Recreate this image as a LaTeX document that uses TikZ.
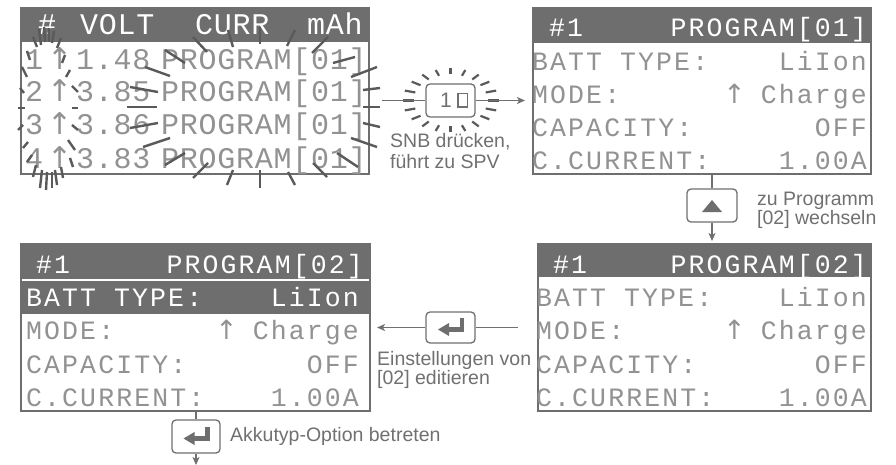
\documentclass[tikz,border=0pt]{standalone}
\usepackage{fontspec}
\setmainfont{Liberation Sans}
\newfontfamily\lcdA{Liberation Mono}[LetterSpace=2.5]
\newfontfamily\lcdB{Liberation Mono}[LetterSpace=8]
\newfontfamily\arrfont{DejaVu Sans}
\newcommand\lcdup{\makebox[0.62em][c]{\arrfont\symbol{"2191}}}
\usetikzlibrary{arrows.meta}
\definecolor{frm}{HTML}{6E6E6E}
\definecolor{lcd}{HTML}{929292}
\definecolor{lbl}{HTML}{707070}
\definecolor{raycol}{HTML}{5A5A5A}
\begin{document}
\begin{tikzpicture}[x=1pt,y=-1pt,
  lcdscreen/.style={draw=frm, line width=2.5pt, fill=white, inner sep=0pt, outer sep=0pt, rectangle},
  btn/.style={draw=lbl, line width=1.3pt, rounded corners=4pt, fill=white, inner sep=0pt, minimum width=49pt, minimum height=33pt},
  lcdS/.style={inner sep=0pt, font=\lcdB\fontsize{26.5}{26.5}\selectfont, text=lcd},
  lcdT/.style={inner sep=0pt, font=\lcdA\fontsize{30}{30}\selectfont, text=lcd, anchor=base west},
  lbltxt/.style={inner sep=0pt, font=\fontsize{19.5}{22}\selectfont, text=lbl, anchor=base west},
  conn/.style={draw=lbl, line width=1.2pt},
  arr/.style={conn, -{Stealth[length=8pt,width=7pt,inset=2pt]}},
  rayS/.style={draw=raycol, line width=2.4pt},
  entericon/.pic={
    \fill[frm] (9,-9.5) rectangle (13.5,4.5);
    \fill[frm] (-2,-0.5) rectangle (13.5,4.5);
    \fill[frm] (-12.5,2) -- (-1.5,-4.5) -- (-1.5,8.5) -- cycle;
  }]
\useasboundingbox (0,0) rectangle (896,465);

% ---------------- screen 1 ----------------
\node[lcdscreen, minimum width=348pt, minimum height=166pt] (s1) at (195,91) {};
\fill[frm] (20,7) rectangle (370,42);
\node[lcdT, text=white] (s1a) at (38,35) {\#};
\node[lcdT, text=white] (s1b) at (80,35) {VOLT};
\node[lcdT, text=white] (s1c) at (195,35) {CURR};
\node[lcdT, text=white] (s1d) at (307,35) {mAh};
\foreach \n/\v/\b in {1/1.48/70, 2/3.85/102, 3/3.86/135, 4/3.83/169} {
  \node[lcdT] (r\n a) at (25,\b) {\n};
  \node[lcdT] (r\n b) at (51,\b) {\lcdup};
  \node[lcdT] (r\n c) at (76,\b) {\v};
  \node[lcdT] (r\n d) at (161,\b) {PROGRAM[01]};
}
\draw[raycol, line width=2pt] (127,107) -- (157,107);
% right burst
\foreach \xa/\ya/\xb/\yb in {193/37/207/52, 228/30/233/47, 260/27/260/44, 295/30/287/46, 328/37/312/53,
  355/57/333/63, 377/67/351/77, 380/88/363/90, 380/107/363/107, 380/127/363/123, 377/147/351/138,
  358/167/337/153, 327/177/313/163, 295/185/288/172, 260/188/260/170, 227/185/233/170, 193/178/208/163,
  165/165/185/153, 143/147/170/138, 130/128/158/123, 130/87/158/92, 145/67/170/76, 165/50/185/63}
  \draw[rayS] (\xa,\ya) -- (\xb,\yb);
% left burst
\foreach \xa/\ya/\xb/\yb in {33/37/37/47, 39/29/41/45, 44/27/45/42, 49/28/49/42, 54/31/52/43, 61/38/57/48,
  27/51/30/60, 65/55/62/63, 22/67/27/77, 70/70/66/77, 20/88/24/93, 72/86/78/92,
  18/108/25/108, 72/108/78/108, 18/130/23/125, 72/125/78/130, 23/148/28/142, 68/140/75/150,
  27/162/32/155, 70/158/73/167,
  33/177/36/165, 40/188/42/170, 46/190/47/172, 52/188/52/172, 57/185/55/170, 63/178/61/167}
  \draw[rayS] (\xa,\ya) -- (\xb,\yb);

% ---------------- screen 2 ----------------
\node[lcdscreen, minimum width=338pt, minimum height=166pt] (s2) at (702,91) {};
\fill[frm] (532,7) rectangle (872,43);
\node[lcdS, text=white, anchor=base west] (s2a) at (549,37) {\#1};
\node[lcdS, text=white, anchor=base east] (s2b) at (867,37) {PROGRAM[01]};
\node[lcdS, anchor=base west] (s2c) at (532,70.5) {BATT TYPE:};
\node[lcdS, anchor=base east] (s2d) at (867,70.5) {LiIon};
\node[lcdS, anchor=base west] (s2e) at (532,103.5) {MODE:};
\node[lcdS, anchor=base east] (s2f) at (867,103.5) {\lcdup\ Charge};
\node[lcdS, anchor=base west] (s2g) at (532,137) {CAPACITY:};
\node[lcdS, anchor=base east] (s2h) at (867,137) {OFF};
\node[lcdS, anchor=base west] (s2i) at (532,170) {C.CURRENT:};
\node[lcdS, anchor=base east] (s2j) at (867,170) {1.00A};

% ---------------- screen 3 ----------------
\node[lcdscreen, minimum width=333pt, minimum height=167pt] (s3) at (704.5,327.5) {};
\fill[frm] (537,243) rectangle (872,277);
\node[lcdS, text=white, anchor=base west] (s3a) at (553,273) {\#1};
\node[lcdS, text=white, anchor=base east] (s3b) at (867,273) {PROGRAM[02]};
\node[lcdS, anchor=base west] (s3c) at (536,306.5) {BATT TYPE:};
\node[lcdS, anchor=base east] (s3d) at (867,306.5) {LiIon};
\node[lcdS, anchor=base west] (s3e) at (536,339.5) {MODE:};
\node[lcdS, anchor=base east] (s3f) at (867,339.5) {\lcdup\ Charge};
\node[lcdS, anchor=base west] (s3g) at (536,373) {CAPACITY:};
\node[lcdS, anchor=base east] (s3h) at (867,373) {OFF};
\node[lcdS, anchor=base west] (s3i) at (536,406) {C.CURRENT:};
\node[lcdS, anchor=base east] (s3j) at (867,406) {1.00A};

% ---------------- screen 4 ----------------
\node[lcdscreen, minimum width=349pt, minimum height=167pt] (s4) at (195.5,327.5) {};
\fill[frm] (20,243) rectangle (371,278.5);
\fill[frm] (20,280.5) rectangle (371,314);
\node[lcdS, text=white, anchor=base west] (s4a) at (36,273) {\#1};
\node[lcdS, text=white, anchor=base east] (s4b) at (363,273) {PROGRAM[02]};
\node[lcdS, text=white, anchor=base west] (s4c) at (26,306.5) {BATT TYPE:};
\node[lcdS, text=white, anchor=base east] (s4d) at (359,306.5) {LiIon};
\node[lcdS, anchor=base west] (s4e) at (26,339.5) {MODE:};
\node[lcdS, anchor=base east] (s4f) at (359,339.5) {\lcdup\ Charge};
\node[lcdS, anchor=base west] (s4g) at (26,373) {CAPACITY:};
\node[lcdS, anchor=base east] (s4h) at (359,373) {OFF};
\node[lcdS, anchor=base west] (s4i) at (26,406) {C.CURRENT:};
\node[lcdS, anchor=base east] (s4j) at (359,406) {1.00A};

% ---------------- buttons ----------------
\node[btn] (b1) at (450.5,100.5) {};
\node[inner sep=0pt, font=\fontsize{21}{21}\selectfont, text=lbl] (b1t) at (446,100.5) {1};
\draw[lbl, line width=1.3pt] (458,93.5) rectangle (467.5,107);
\foreach \a in {0,18,...,342}
  \draw[rayS, line width=2.2pt] ({450.5+37*cos(\a)},{100.5+26*sin(\a)}) -- ({450.5+48*cos(\a)},{100.5+32*sin(\a)});

\node[btn, minimum width=50pt] (b2) at (712,205.5) {};
\fill[frm] (702,212) -- (722,212) -- (712,200) -- cycle;

\node[btn, minimum height=31pt] (b3) at (450.5,327.5) {};
\pic at (b3) {entericon};

\node[btn, minimum width=48pt] (b4) at (196,436.5) {};
\pic at (b4) {entericon};

% ---------------- connectors ----------------
\coordinate (c1) at (382,100.5);
\coordinate (c2) at (525,100.5);
\draw[conn] (c1) -- (b1.west);
\draw[arr] (b1.east) -- (c2);
\draw[conn] (b2.north |- s2.south) -- (b2.north);
\draw[arr] (b2.south) -- ([yshift=3pt]b2.south |- s3.north);
\coordinate (c3) at (518,327.5);
\coordinate (c4) at (377,327.5);
\draw[conn] (c3) -- (b3.east);
\draw[arr] (b3.west) -- (c4);
\draw[conn] (b4.north |- s4.south) -- (b4.north);
\coordinate (c5) at (196,465);
\draw[arr] (b4.south) -- (c5);

% ---------------- labels ----------------
\node[lbltxt] (l1) at (390,148) {SNB drücken,};
\node[lbltxt] (l2) at (390,168) {führt zu SPV};
\node[lbltxt] (l3) at (757,205) {zu Programm};
\node[lbltxt] (l4) at (757,224) {[02] wechseln};
\node[lbltxt] (l5) at (377,365) {Einstellungen von};
\node[lbltxt] (l6) at (377,384) {[02] editieren};
\node[lbltxt] (l7) at (230,441) {Akkutyp-Option betreten};
\end{tikzpicture}
\end{document}
